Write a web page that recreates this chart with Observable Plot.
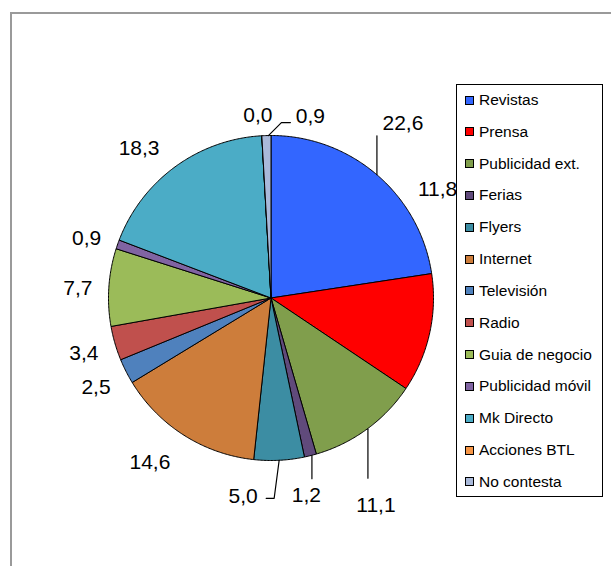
<!DOCTYPE html>
<html>
<head>
<meta charset="utf-8">
<script src="https://cdn.jsdelivr.net/npm/d3@7"></script>
<script src="https://cdn.jsdelivr.net/npm/@observablehq/plot@0.6"></script>
<style>
  html, body { margin: 0; padding: 0; background: #fff; }
  #wrap { position: relative; width: 611px; height: 566px; overflow: hidden; font-family: "Liberation Sans", Arial, sans-serif; }
  #frame { position: absolute; left: 10px; top: 12px; width: 620px; height: 600px; border-left: 2px solid #9a9a9a; border-top: 2px solid #9a9a9a; box-sizing: border-box; }
  #chart { position: absolute; left: 0; top: 0; }
  #legend { position: absolute; left: 456px; top: 84px; width: 147px; height: 413px; border: 1px solid #000; background: #fff; box-sizing: border-box; }
  .item { position: absolute; left: 0; height: 20px; display: flex; align-items: center; font-size: 15.5px; color: #000; white-space: nowrap; }
  .sw { width: 7px; height: 7px; border: 1px solid #000; margin-left: 8px; margin-right: 5px; }
</style>
</head>
<body>
<div id="wrap">
  <div id="frame"></div>
  <div id="chart"></div>
  <div id="legend"></div>
</div>
<script>
// ---- data ----
const categories = ["Revistas", "Prensa", "Publicidad ext.", "Ferias", "Flyers", "Internet", "Televisión", "Radio", "Guia de negocio", "Publicidad móvil", "Mk Directo", "Acciones BTL", "No contesta"];
const values = [22.6, 11.8, 11.1, 1.2, 5.0, 14.6, 2.5, 3.4, 7.7, 0.9, 18.3, 0.0, 0.9];
const colors = ["#3366FF", "#FF0000", "#809E4C", "#604A7B", "#3C8DA3", "#CD7D3B", "#4F81BD", "#C0504D", "#9BBB59", "#8064A2", "#4BACC6", "#F79646", "#A9B9DA"];

// ---- layout (pixels) ----
const W = 611, H = 566;
const cx = 270.5, cy = 297.5, R = 162.5;
// label offsets from the slice's outer edge point at mid-angle
const labelOffsets = [[26,-52],[8,-144],[9,76],[-4,40],[-36,36],[-34,27],[-30,16],[-31,10],[-31,1],[-31,-6],[-36,-19],[-4,-20],[44,-19]];
// leader line offsets from the edge point (only for some slices)
const leaderOffsets = {0: [[0,0],[0,-39]], 2: [[1,0],[1,49]], 3: [[1.5,0],[1.5,23]], 4: [[0,0],[-5,38],[-13,38]], 12: [[2,0],[15,-13],[24,-13]]};

const fmt = v => v.toFixed(1).replace(".", ",");
const arcs = d3.pie().sort(null).value(d => d)(values);
const pt = (a, r) => ({x: cx + r * Math.sin(a), y: cy - r * Math.cos(a)});

const slicePts = [];
arcs.forEach((a, i) => {
  const name = categories[i];
  slicePts.push({name, ...pt(0, 0)});
  const n = Math.max(2, Math.ceil((a.endAngle - a.startAngle) / (Math.PI / 360)));
  for (let k = 0; k <= n; k++) {
    const t = a.startAngle + (a.endAngle - a.startAngle) * k / n;
    slicePts.push({name, ...pt(t, R)});
  }
  slicePts.push({name, ...pt(0, 0)});
});

const labelData = arcs.map((a, i) => {
  const mid = (a.startAngle + a.endAngle) / 2;
  const e = pt(mid, R);
  return {x: e.x + labelOffsets[i][0], y: e.y + labelOffsets[i][1], text: fmt(values[i])};
});

const leaderPts = [];
Object.entries(leaderOffsets).forEach(([i, offs]) => {
  const a = arcs[+i];
  const e = pt((a.startAngle + a.endAngle) / 2, R);
  offs.forEach(o => leaderPts.push({id: i, x: e.x + o[0], y: e.y + o[1]}));
});

const chart = Plot.plot({
  width: W, height: H,
  margin: 0,
  x: {domain: [0, W], range: [0, W], axis: null},
  y: {domain: [0, H], range: [0, H], axis: null},
  color: {domain: categories, range: colors},
  style: {background: "transparent", fontFamily: "Liberation Sans, Arial, sans-serif"},
  marks: [
    Plot.line(slicePts, {x: "x", y: "y", z: "name", fill: "name", stroke: "#000", strokeWidth: 1, strokeLinejoin: "round"}),
    Plot.line(leaderPts, {x: "x", y: "y", z: "id", stroke: "#000", strokeWidth: 1.2}),
    Plot.text(labelData, {x: "x", y: "y", text: "text", fontSize: 21, fill: "#000"})
  ]
});
document.getElementById("chart").appendChild(chart);

// legend
const legend = document.getElementById("legend");
categories.forEach((c, i) => {
  const it = document.createElement("div");
  it.className = "item";
  it.style.top = (15 + i * 31.83 - 10) + "px";
  const sw = document.createElement("div");
  sw.className = "sw";
  sw.style.background = colors[i];
  const tx = document.createElement("span");
  tx.textContent = c;
  it.appendChild(sw); it.appendChild(tx);
  legend.appendChild(it);
});
</script>
</body>
</html>
